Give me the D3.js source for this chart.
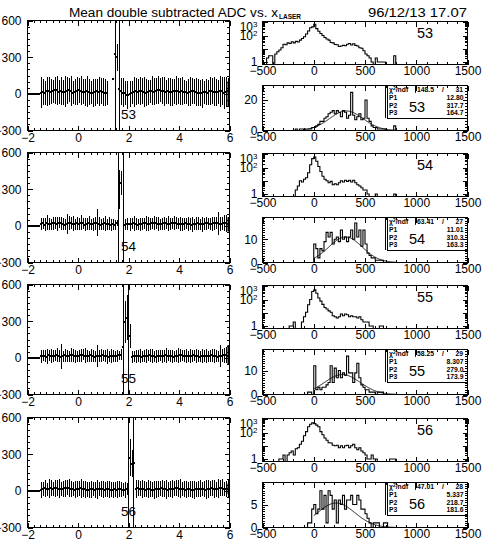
<!DOCTYPE html>
<html><head><meta charset="utf-8">
<script src="https://cdn.jsdelivr.net/npm/d3@7"></script>
<style>
body{margin:0;background:#fff}
svg{display:block}
</style>
</head><body>
<script>
// ---------------- DATA ----------------
const rowIds = ["53", "54", "55", "56"];
const titleText = "Mean double subtracted ADC vs. x";
const titleSub = "LASER";
const dateText = "96/12/13  17.07";

// left panels: profile of mean ADC vs x (bins of 0.08 from -2)
const profLo = -2, profW = 0.08;
const leftXTicks = [-2, 0, 2, 4, 6];
const leftYTicks = [-300, 0, 300, 600];

const profMean53 = [0,0,0,0,0,0,
 10,15,8,20,25,18,22,30,28,15,20,12,18,25,30,22,10,15,20,28,25,18,12,20,15,10,8,12,20,18,22,15,10,5,
 null,null,120,330,300,40,
 20,10,5,-10,0,8,15,20,18,22,25,15,10,12,20,25,18,22,28,30,25,20,15,22,18,12,20,25,22,18,20,15,12,10,18,22,20,15,10,8,5,12,15,10,20,25,18,12,15,20,22,10,15,20];
const profErr53 = [6,6,6,6,6,6,
 125,110,100,120,115,105,95,110,120,100,115,105,125,110,100,120,95,110,115,105,120,100,110,125,105,95,115,110,100,120,105,115,110,100,
 null,null,0,165,110,70,
 110,120,100,115,105,95,120,110,100,115,105,125,110,100,95,120,110,105,115,100,110,120,95,105,115,110,100,120,105,110,115,100,95,110,120,105,100,115,110,105,120,95,110,100,115,105,120,110,100,125,115,130,120,110];

const profMean54 = [0,0,0,0,0,0,
 15,20,10,25,18,12,20,22,15,25,20,18,10,15,22,25,18,12,20,15,25,20,10,18,22,15,12,20,25,18,10,15,20,12,18,10,15,8,20,
 297,350,null,
 10,15,12,18,20,15,10,12,18,22,20,15,18,20,25,22,15,12,18,20,22,18,15,20,25,22,18,15,12,18,20,15,12,10,15,18,20,15,12,18,20,22,18,15,20,25,20,15,18,22,20,15];
const profErr54 = [6,6,6,6,6,6,
 50,45,55,60,50,45,55,50,60,45,55,50,45,80,55,50,60,45,55,50,60,45,55,50,60,45,55,50,110,55,45,50,60,45,55,50,45,40,25,
 163,95,null,
 45,50,55,45,60,50,45,55,50,45,60,55,50,45,55,50,60,45,50,55,45,60,50,45,55,50,45,60,55,50,45,55,50,60,45,55,50,45,60,50,55,45,50,60,55,50,95,60,55,65,70,60];

const profMean55 = [0,0,0,0,0,0,
 12,18,15,10,20,15,12,18,22,15,10,12,20,18,15,22,20,12,15,18,20,25,18,12,15,20,18,10,12,15,18,20,15,12,10,15,18,12,15,20,25,
 85,292,330,178,
 10,15,12,18,15,10,12,15,18,20,15,12,10,15,18,12,15,20,18,15,12,10,15,18,20,22,18,15,12,15,18,20,15,12,10,15,18,15,12,18,20,15,12,10,15,18,20,25,15];
const profErr55 = [6,6,6,6,6,6,
 55,45,50,60,45,55,50,45,55,50,100,45,55,50,45,60,50,55,45,50,55,45,60,50,45,55,50,45,90,50,55,45,50,60,45,55,50,45,50,40,45,
 10,174,185,100,
 50,45,55,50,60,45,50,55,45,50,60,45,55,50,45,55,50,60,45,50,55,45,50,60,55,45,50,55,45,60,50,45,55,50,45,60,50,55,45,50,55,60,50,45,90,55,60,65,60];

const profMean56 = [0,0,0,0,0,0,
 10,15,20,12,18,25,15,20,22,18,15,12,20,25,22,18,15,10,12,18,20,15,12,10,8,12,15,10,12,15,18,12,10,15,12,10,8,12,10,15,12,10,8,12,
 272,221,229,
 15,20,18,15,12,10,15,12,10,8,12,15,18,20,15,12,10,12,15,18,20,22,18,15,12,10,12,15,10,8,12,15,18,15,12,10,15,18,20,15,12,18,20,25,15,12,18];
const profErr56 = [6,6,6,6,6,6,
 65,60,70,55,75,65,60,70,65,75,60,65,70,60,75,65,60,70,65,60,75,65,70,60,65,70,60,65,75,60,65,70,60,65,70,60,65,60,70,65,60,55,65,50,
 153,110,5,
 70,65,60,75,65,60,70,65,60,75,70,65,60,70,65,75,60,65,70,60,65,70,75,60,65,70,60,65,70,75,60,65,70,60,65,75,70,60,65,70,60,75,65,70,60,65,70];

// cut strip boundaries (x) and dense edge cluster near x=6 (y range)
const stripLo = [1.465, 1.597, 1.795, 1.99];
const stripHi = [1.62, 1.795, 1.99, 2.19];
const edgeLo = [-108, -47, -57, -28];
const edgeHi = [100, 70, 104, 59];
const edgeX = [5.92, 6.0];

// right panels: histograms, bins of 20 ADC
const histW = 20;
const rightXTicks = [-500, 0, 500, 1000, 1500];
const logStart = [-460, -180, -240, -340];
const logCounts53 = [2,3,3,0,4,6,8,12,22,20,28,25,34,28,36,32,45,60,80,130,220,380,450,700,330,210,140,100,70,55,45,30,28,21,20,15,16,18,17,22,25,19,24,18,16,12,11,7,4,3,2,1,0,2,1,1,1,1,0,0,0,0,3];
const logCounts54 = [2,4,10,8,13,17,40,160,470,620,300,120,50,22,13,10,7,9,5,6,5,7,10,8,11,9,11,8,11,7,5,4,3,2,2,1,0,0,0,1,0,0,0,0,0,0,0,0,1];
const logCounts55 = [1,1,2,0,0,0,2,5,11,40,100,400,530,300,130,75,43,25,19,14,11,6,5,4,5,8,6,8,7,5,6,5,5,4,5,3,2,2,2,1,1,0,0,0,1,1];
const logCounts56 = [1,1,2,0,2,3,4,2,6,7,13,22,57,117,270,420,530,470,360,270,117,68,39,26,17,16,11,10,11,7,10,7,10,11,7,10,13,7,5,7,4,3,2,1,1,2,1,1,0,0,0,0,0,0,1,1,1];

const linStart = [-180, 0, -60, -60];
const linCounts53 = [1,0,1,1,0,1,1,1,2,2,3,4,6,6,8,9,11,12,13,11,13,12,9,13,12,8,10,25,10,7,9,11,7,8,20,8,6,3,2,2,1,1,1,1,0,0,0,0,3];
const linCounts54 = [8,6,2,6,5,9,13,11,13,8,10,11,9,14,10,11,9,11,14,10,17,11,14,7,14,8,4,3,2,2,1,1,1,1];
const linCounts55 = [1,1,0,12,2,3,2,3,3,4,5,12,5,11,7,10,7,9,8,16,9,9,5,9,13,7,4,3,2,2,1,1,1,0,1,1,1];
const linCounts56 = [1,1,4,5,3,4,8,4,7,1,8,7,4,6,1,6,5,7,4,6,6,7,5,5,7,6,4,4,3,2,1,0,1,1,1,0,0,1,1];
const linMax = [29.5, 19.4, 18.75, 9.8];
const linMajor = [20, 10, 10, 5];
const linMinor = [2, 1, 1, 0.5];

// gaussian fit results
const fitChi2 = ["148.5", "63.41", "58.25", "47.01"];
const fitNdf = ["31", "27", "29", "28"];
const fitP1 = [12.80, 11.01, 8.307, 5.337];
const fitP2 = [317.7, 310.3, 279.0, 218.7];
const fitP3 = [164.7, 163.3, 173.9, 181.6];
const fitP1Text = ["12.80", "11.01", "8.307", "5.337"];
const fitP2Text = ["317.7", "310.3", "279.0", "218.7"];
const fitP3Text = ["164.7", "163.3", "173.9", "181.6"];
const fitLo = [-60, 0, 0, 0];
const fitHi = [800, 800, 800, 800];

const profMeans = [profMean53, profMean54, profMean55, profMean56];
const profErrs = [profErr53, profErr54, profErr55, profErr56];
const logCounts = [logCounts53, logCounts54, logCounts55, logCounts56];
const linCounts = [linCounts53, linCounts54, linCounts55, linCounts56];

// ---------------- LAYOUT ----------------
const W = 484, H = 546;
const FONT = "'Liberation Sans', Arial, Helvetica, sans-serif";
const rowTop = [20.5, 152.5, 284.5, 417.5];
const LX0 = 27.5, LX1 = 229.5, PH = 110;
const RX0 = 262.5, RX1 = 467.5;

const svg = d3.select("body").append("svg")
  .attr("width", W).attr("height", H)
  .attr("font-family", FONT);
svg.append("rect").attr("width", W).attr("height", H).attr("fill", "#fff");

// title + date
svg.append("text").attr("x", 69).attr("y", 16.5).attr("font-size", 12.5)
  .attr("textLength", 209).attr("lengthAdjust", "spacingAndGlyphs").text(titleText);
svg.append("text").attr("x", 279).attr("y", 18.5).attr("font-size", 6.5)
  .attr("font-weight", "bold").text(titleSub);
svg.append("text").attr("x", 368).attr("y", 16.5).attr("font-size", 12.5)
  .attr("textLength", 99).attr("lengthAdjust", "spacingAndGlyphs").text(dateText);

function range(a, b, s) { const out = []; for (let v = a; v <= b + 1e-9; v += s) out.push(+v.toFixed(6)); return out; }
function minorOf(a, b, s, majors) { return range(a, b, s).filter(v => !majors.some(m => Math.abs(m - v) < 1e-6)); }
const fmtInt = d3.format("d");

function styleAxis(g, fs) {
  g.select(".domain").remove();
  g.attr("font-size", fs).attr("font-family", FONT);
  g.selectAll(".tick line").attr("stroke", "#000").attr("shape-rendering", "crispEdges");
  g.selectAll(".tick text").attr("fill", "#000");
  return g;
}

function frameAxes(g, x, y, x0, x1, y0, y1, xMaj, xMin, yMaj, yMin, opts) {
  const fs = 12;
  // bottom
  styleAxis(g.append("g").attr("transform", `translate(0,${y1})`)
    .call(d3.axisBottom(x).tickValues(xMaj).tickSize(-5).tickPadding(opts.xPad).tickFormat(fmtInt)), fs);
  styleAxis(g.append("g").attr("transform", `translate(0,${y1})`)
    .call(d3.axisBottom(x).tickValues(xMin).tickSize(-2.5).tickFormat("")), fs);
  // top
  styleAxis(g.append("g").attr("transform", `translate(0,${y0})`)
    .call(d3.axisTop(x).tickValues(xMaj).tickSize(-5).tickFormat("")), fs);
  styleAxis(g.append("g").attr("transform", `translate(0,${y0})`)
    .call(d3.axisTop(x).tickValues(xMin).tickSize(-2.5).tickFormat("")), fs);
  // left
  const la = styleAxis(g.append("g").attr("transform", `translate(${x0},0)`)
    .call(d3.axisLeft(y).tickValues(yMaj).tickSize(-5).tickPadding(opts.yPad)
      .tickFormat(opts.yFmt || fmtInt)), fs);
  styleAxis(g.append("g").attr("transform", `translate(${x0},0)`)
    .call(d3.axisLeft(y).tickValues(yMin).tickSize(-2.5).tickFormat("")), fs);
  // right
  styleAxis(g.append("g").attr("transform", `translate(${x1},0)`)
    .call(d3.axisRight(y).tickValues(yMaj).tickSize(-5).tickFormat("")), fs);
  styleAxis(g.append("g").attr("transform", `translate(${x1},0)`)
    .call(d3.axisRight(y).tickValues(yMin).tickSize(-2.5).tickFormat("")), fs);
  g.append("rect").attr("x", x0).attr("y", y0).attr("width", x1 - x0).attr("height", y1 - y0)
    .attr("fill", "none").attr("stroke", "#000").attr("shape-rendering", "crispEdges");
  return la;
}

function histPoints(start, counts, yf, base) {
  const pts = [[start, base]];
  counts.forEach((c, k) => {
    const lo = start + k * histW, yy = c > 0 ? yf(c) : base;
    pts.push([lo, yy], [lo + histW, yy]);
  });
  pts.push([start + counts.length * histW, base]);
  return pts;
}

rowIds.forEach((id, r) => {
  const T = rowTop[r];
  // ---------- LEFT PROFILE PANEL ----------
  const gl = svg.append("g");
  const x = d3.scaleLinear().domain([-2, 6]).range([LX0, LX1]);
  const y = d3.scaleLinear().domain([-300, 600]).range([T + PH, T]);
  const clipId = "clipL" + r;
  svg.append("clipPath").attr("id", clipId).append("rect")
    .attr("x", LX0).attr("y", T).attr("width", LX1 - LX0).attr("height", PH);
  const data = profMeans[r].map((m, i) => ({ m, e: profErrs[r][i], x0: profLo + i * profW }))
    .filter(d => d.m != null);
  const gp = gl.append("g").attr("clip-path", `url(#${clipId})`);
  gp.selectAll("line.err").data(data.filter(d => d.e > 0)).join("line").attr("class", "err")
    .attr("x1", d => Math.round(x(d.x0 + profW / 2)) + 0.5).attr("x2", d => Math.round(x(d.x0 + profW / 2)) + 0.5)
    .attr("y1", d => y(d.m - d.e)).attr("y2", d => y(d.m + d.e))
    .attr("stroke", "#000").attr("stroke-width", 1).attr("shape-rendering", "crispEdges");
  gp.selectAll("line.mean").data(data).join("line").attr("class", "mean")
    .attr("x1", d => x(d.x0)).attr("x2", d => x(d.x0 + profW))
    .attr("y1", d => Math.round(y(d.m))).attr("y2", d => Math.round(y(d.m)))
    .attr("stroke", "#000").attr("stroke-width", 2).attr("shape-rendering", "crispEdges");
  gp.append("rect").attr("x", x(edgeX[0])).attr("width", x(edgeX[1]) - x(edgeX[0]))
    .attr("y", y(edgeHi[r])).attr("height", y(edgeLo[r]) - y(edgeHi[r])).attr("fill", "#000");
  gl.selectAll("line.strip").data([stripLo[r], stripHi[r]]).join("line").attr("class", "strip")
    .attr("x1", d => Math.round(x(d)) + 0.5).attr("x2", d => Math.round(x(d)) + 0.5)
    .attr("y1", T).attr("y2", T + PH).attr("stroke", "#000").attr("stroke-width", 1)
    .attr("shape-rendering", "crispEdges");
  frameAxes(gl, x, y, LX0, LX1, T, T + PH, leftXTicks, minorOf(-2, 6, 0.25, leftXTicks),
    leftYTicks, minorOf(-300, 600, 50, leftYTicks), { xPad: 3, yPad: 6 });
  gl.append("text").attr("x", 121).attr("y", T + 98).attr("font-size", 13.5).text(id);

  // ---------- RIGHT LOG HISTOGRAM ----------
  const xr = d3.scaleLinear().domain([-500, 1500]).range([RX0, RX1]);
  const gr = svg.append("g");
  const ly0 = T + 1, ly1 = T + 44;
  const yl = d3.scaleLog().domain([0.65, 1140]).range([ly1, ly0]).clamp(true);
  const line = d3.line().x(d => xr(d[0])).y(d => d[1]);
  gr.append("path").attr("d", line(histPoints(logStart[r], logCounts[r], yl, ly1)))
    .attr("fill", "none").attr("stroke", "#000").attr("stroke-width", 1.1);
  const logMaj = [1, 10, 100, 1000];
  const logMin = [];
  [1, 10, 100].forEach(dec => { for (let k = 2; k <= 9; k++) logMin.push(dec * k); });
  [0.7, 0.8, 0.9].forEach(v => logMin.push(v));
  const la = frameAxes(gr, xr, yl, RX0, RX1, ly0, ly1, rightXTicks, minorOf(-500, 1500, 100, rightXTicks),
    logMaj, logMin, { xPad: 1.5, yPad: 5, yFmt: v => (v === 1 ? "1" : v === 10 ? "" : "10") });
  la.selectAll(".tick").each(function (v) {
    const t = d3.select(this).select("text");
    if (v === 100 || v === 1000) {
      t.append("tspan").attr("dy", "-0.45em").attr("font-size", 8).text(v === 100 ? "2" : "3");
      const off = Math.max(0, ly0 + 5 - yl(v));
      t.attr("transform", `translate(0,${off})`);
    }
  });
  gr.append("text").attr("x", 417).attr("y", T + 17).attr("font-size", 14.5).text(id);

  // ---------- RIGHT LINEAR HISTOGRAM + FIT ----------
  const ny0 = T + 65, ny1 = T + PH;
  const yn = d3.scaleLinear().domain([0, linMax[r]]).range([ny1, ny0]);
  const gn = svg.append("g");
  gn.append("path").attr("d", line(histPoints(linStart[r], linCounts[r], yn, ny1)))
    .attr("fill", "none").attr("stroke", "#000").attr("stroke-width", 1.1);
  const fx = range(fitLo[r], fitHi[r], 5);
  const gauss = v => fitP1[r] * Math.exp(-0.5 * Math.pow((v - fitP2[r]) / fitP3[r], 2));
  gn.append("path").attr("d", d3.line().x(v => xr(v)).y(v => yn(gauss(v)))(fx))
    .attr("fill", "none").attr("stroke", "#000").attr("stroke-width", 0.9);
  // stats box
  const bx0 = 387, by1 = T + 97.5;
  gn.append("rect").attr("x", bx0).attr("y", ny0).attr("width", RX1 - bx0).attr("height", by1 - ny0)
    .attr("fill", "#fff").attr("stroke", "#000").attr("shape-rendering", "crispEdges");
  gn.append("line").attr("x1", 385.5).attr("x2", 385.5).attr("y1", ny0).attr("y2", by1)
    .attr("stroke", "#000").attr("shape-rendering", "crispEdges");
  const linMaj = range(0, linMax[r], linMajor[r]);
  frameAxes(gn, xr, yn, RX0, RX1, ny0, ny1, rightXTicks, minorOf(-500, 1500, 100, rightXTicks),
    linMaj, minorOf(0, linMax[r], linMinor[r], linMaj), { xPad: 1.5, yPad: 5 });
  const st = gn.append("g").attr("font-size", 6.8).attr("font-weight", "bold");
  const rowsY = [T + 71.3, T + 79.3, T + 87, T + 94.7];
  const chiT = st.append("text").attr("x", 389).attr("y", rowsY[0]);
  chiT.append("tspan").text("χ");
  chiT.append("tspan").attr("dy", "-0.35em").attr("font-size", 5).text("2");
  chiT.append("tspan").attr("dy", "0.35em").text("/ndf");
  st.append("line").attr("x1", 415.5).attr("x2", 415.5).attr("y1", rowsY[0] - 6).attr("y2", rowsY[0] + 1)
    .attr("stroke", "#000");
  st.append("text").attr("x", 417).attr("y", rowsY[0]).text(fitChi2[r]);
  st.append("text").attr("x", 442).attr("y", rowsY[0]).text("/");
  st.append("text").attr("x", 463).attr("y", rowsY[0]).attr("text-anchor", "end").text(fitNdf[r]);
  ["P1", "P2", "P3"].forEach((p, k) => {
    st.append("text").attr("x", 389).attr("y", rowsY[k + 1]).text(p);
  });
  [fitP1Text[r], fitP2Text[r], fitP3Text[r]].forEach((v, k) => {
    st.append("text").attr("x", 463.5).attr("y", rowsY[k + 1]).attr("text-anchor", "end").text(v);
  });
  gn.append("text").attr("x", 417).attr("y", T + 91).attr("font-size", 14.5)
    .attr("text-anchor", "middle").text(id);
});
</script>
</body></html>
